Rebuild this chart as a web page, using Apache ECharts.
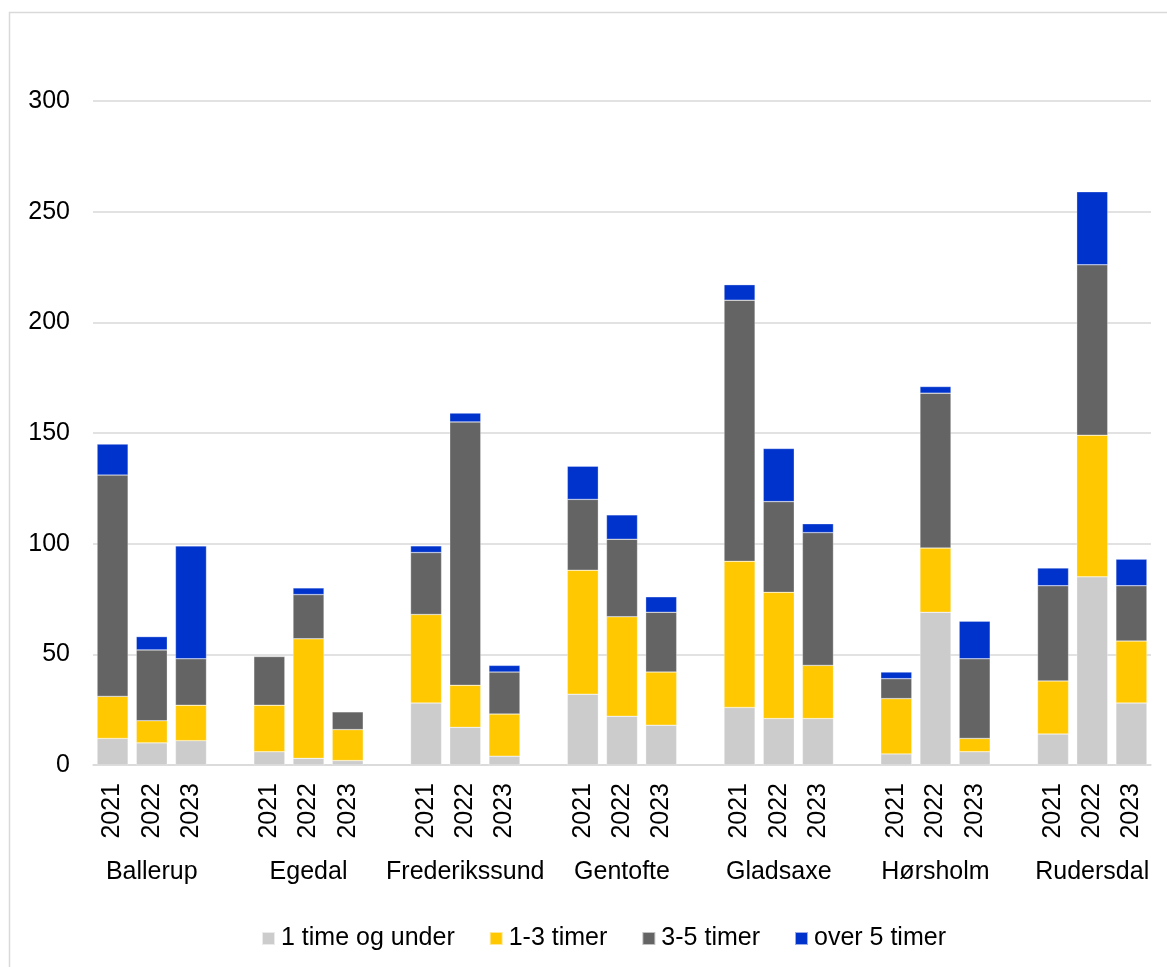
<!DOCTYPE html>
<html>
<head>
<meta charset="utf-8">
<script src="https://cdn.jsdelivr.net/npm/echarts@6/dist/echarts.min.js"></script>
<style>
  html, body { margin: 0; padding: 0; background: #fff; }
  #main { width: 1167px; height: 967px; }
</style>
</head>
<body>
<div id="main"></div>
<script>
// data
var kommuner = ['Ballerup', 'Egedal', 'Frederikssund', 'Gentofte', 'Gladsaxe', 'Hørsholm', 'Rudersdal'];
var aar = ['2021', '2022', '2023'];
var serieNavne = ['1 time og under', '1-3 timer', '3-5 timer', 'over 5 timer'];
var farver = ['#CCCCCC', '#FFC800', '#646464', '#0033CC'];

// one row per kommune, three values (2021, 2022, 2023)
var underEn = [[12, 10, 11], [6, 3, 2], [28, 17, 4], [32, 22, 18], [26, 21, 21], [5, 69, 6], [14, 85, 28]];
var enTilTre = [[19, 10, 16], [21, 54, 14], [40, 19, 19], [56, 45, 24], [66, 57, 24], [25, 29, 6], [24, 64, 28]];
var treTilFem = [[100, 32, 21], [22, 20, 8], [28, 119, 19], [32, 35, 27], [118, 41, 60], [9, 70, 36], [43, 77, 25]];
var overFem = [[14, 6, 51], [0, 3, 0], [3, 4, 3], [15, 11, 7], [7, 24, 4], [3, 3, 17], [8, 33, 12]];

var yTicks = { min: 0, max: 300, interval: 50 };

var chart = echarts.init(document.getElementById('main'));

// build slots: 3 bars per kommune + one empty slot between groups
var slots = [], aarLabels = [], navnLabels = [], slotIdx = [];
kommuner.forEach(function(k, i) {
    if (i > 0) {
        slots.push('gap' + i); aarLabels.push(''); navnLabels.push(''); slotIdx.push(null);
    }
    aar.forEach(function(a, j) {
        slots.push(k + a);
        aarLabels.push(a);
        navnLabels.push(j === 1 ? k : '');
        slotIdx.push([i, j]);
    });
});

var raw = [underEn, enTilTre, treTilFem, overFem];
var series = raw.map(function(tbl, s) {
    return {
        name: serieNavne[s],
        type: 'bar',
        stack: 'tot',
        barWidth: 31,
        itemStyle: { color: farver[s], borderColor: 'rgba(255,255,255,0.6)', borderWidth: 0.5 },
        data: slotIdx.map(function(p) {
            if (!p) return null;
            var v = tbl[p[0]][p[1]];
            return v === 0 ? null : v;
        })
    };
});

var fnt = '"Liberation Sans", Arial, sans-serif';
var fs = 25;

var option = {
    animation: false,
    backgroundColor: '#fff',
    textStyle: { fontFamily: fnt },
    graphic: [{
        type: 'rect',
        shape: { x: 9.5, y: 12.5, width: 1200, height: 1000 },
        style: { fill: 'none', stroke: '#d9d9d9', lineWidth: 1.5 },
        silent: true
    }],
    grid: { left: 93, right: 16, top: 101, bottom: 202 },
    legend: {
        data: serieNavne,
        left: 256,
        top: 921,
        icon: 'rect',
        itemWidth: 13,
        itemHeight: 13,
        itemGap: 34,
        textStyle: { fontSize: fs, color: '#000', fontFamily: fnt, padding: [0, 0, 0, 1] }
    },
    xAxis: [{
        type: 'category',
        data: slots,
        axisTick: { show: false },
        axisLine: { lineStyle: { color: '#d9d9d9', width: 1.5 } },
        axisLabel: {
            interval: 0,
            rotate: 90,
            margin: 18,
            fontSize: fs,
            color: '#000',
            fontFamily: fnt,
            formatter: function(v, idx) { return aarLabels[idx]; }
        }
    }, {
        type: 'category',
        data: slots,
        position: 'bottom',
        axisTick: { show: false },
        axisLine: { show: false },
        axisLabel: {
            interval: 0,
            margin: 95,
            fontSize: fs,
            color: '#000',
            fontFamily: fnt,
            formatter: function(v, idx) { return navnLabels[idx]; }
        }
    }],
    yAxis: {
        type: 'value',
        min: yTicks.min,
        max: yTicks.max,
        interval: yTicks.interval,
        axisLine: { show: false },
        axisTick: { show: false },
        axisLabel: { fontSize: fs, color: '#000', margin: 23, fontFamily: fnt },
        splitLine: { lineStyle: { color: '#d9d9d9', width: 1.5 } }
    },
    series: series
};

chart.setOption(option);
</script>
</body>
</html>
